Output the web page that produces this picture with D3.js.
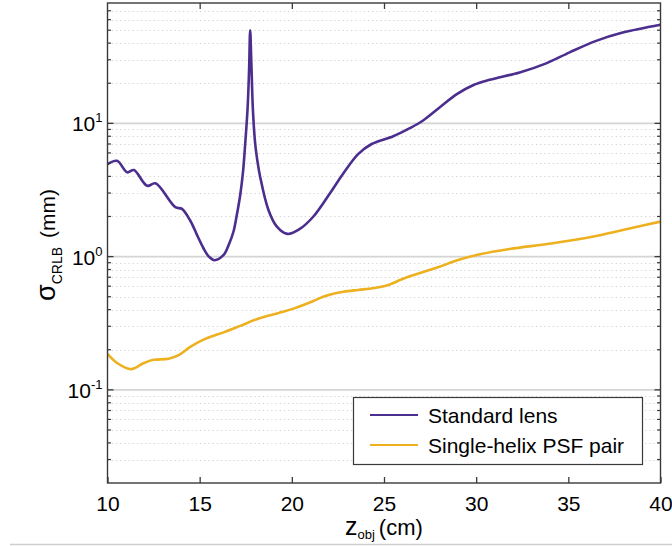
<!DOCTYPE html>
<html>
<head>
<meta charset="utf-8">
<script src="https://cdn.jsdelivr.net/npm/d3@7"></script>
<style>
  html, body { margin: 0; padding: 0; background: #fff; }
  svg { display: block; font-family: "Liberation Sans", Arial, sans-serif; }
</style>
</head>
<body>
<svg id="chart" width="672" height="546"></svg>
<script>
// Object distance z_obj (cm) and CRLB precision (mm) for the two imaging systems
const zStandard = [10, 10.52, 11.07, 11.43, 12.15, 12.6, 13.68, 14.04, 14.5, 14.86, 15.2, 15.5,
  15.8, 16.3, 16.6, 16.84, 17.0, 17.2, 17.35, 17.47, 17.6, 17.68, 17.74, 17.8, 17.89, 18.01,
  18.1, 18.28, 18.73, 19.19, 19.76, 20.45, 21.17, 22.07, 22.79, 23.61, 24.33, 25.5, 26.4,
  27.12, 28.03, 28.93, 29.83, 30.74, 32.36, 33.8, 35.07, 36.51, 37.95, 40];
const sigmaStandard = [4.94, 5.23, 4.29, 4.46, 3.40, 3.55, 2.35, 2.28, 1.85, 1.45, 1.16, 1.0,
  0.94, 1.03, 1.25, 1.55, 2.0, 2.9, 4.3, 7.0, 13, 25, 50, 29.5, 12.5, 7.06,
  5.6, 3.98, 2.24, 1.68, 1.48, 1.62, 2.0, 2.99, 4.21, 5.9, 7.0, 8.0, 9.2,
  10.5, 13.2, 16.5, 19.3, 21.2, 24.1, 28.2, 34.1, 41.6, 48, 55];

const zHelix = [10, 10.52, 11.28, 11.97, 12.5, 13.32, 13.86, 14.49, 15.21, 15.8, 16.3, 17.2,
  18.1, 19.37, 20.09, 21.17, 21.7, 22.25, 22.8, 23.6, 24.4, 25.2, 26.04, 27.85, 29.11, 30.2,
  31.82, 34.16, 36.51, 38.68, 40];
const sigmaHelix = [0.186, 0.159, 0.143, 0.159, 0.168, 0.171, 0.182, 0.210, 0.238, 0.256, 0.270,
  0.302, 0.339, 0.38, 0.407, 0.464, 0.50, 0.527, 0.545, 0.562, 0.578, 0.61, 0.682, 0.824,
  0.95, 1.04, 1.14, 1.26, 1.43, 1.67, 1.83];

const seriesNames = ["Standard lens", "Single-helix PSF pair"];
const seriesColors = ["#4b2e8d", "#edb120"];

const xTicks = [10, 15, 20, 25, 30, 35, 40];
const yMajorTicks = [0.1, 1, 10];
const yExponents = ["-1", "0", "1"];
const yDomain = [0.02, 80];
const xDomain = [10, 40];

const svg = d3.select("#chart");
const m = { left: 107.5, right: 660.5, top: 3, bottom: 483 };

const x = d3.scaleLinear().domain(xDomain).range([m.left, m.right]);
const y = d3.scaleLog().domain(yDomain).range([m.bottom, m.top]);

// Minor tick values: 2..9 times each power of ten inside the domain
const yMinor = [];
[0.01, 0.1, 1, 10].forEach(p => {
  for (let k = 2; k <= 9; k++) {
    const v = +(k * p).toPrecision(3);
    if (v > yDomain[0] && v < yDomain[1]) yMinor.push(v);
  }
});

// Separator rule under the figure
svg.append("line")
  .attr("x1", 10).attr("x2", 672).attr("y1", 544.5).attr("y2", 544.5)
  .attr("stroke", "#cfcfcf").attr("stroke-width", 1.5);

// Grid
const grid = svg.append("g");
grid.selectAll("line.minor").data(yMinor).join("line")
  .attr("class", "minor")
  .attr("x1", m.left).attr("x2", m.right)
  .attr("y1", d => Math.round(y(d)) + 0.5).attr("y2", d => Math.round(y(d)) + 0.5)
  .attr("stroke", "#d2d2d2").attr("stroke-width", 1)
  .attr("stroke-dasharray", "1.2,3");
grid.selectAll("line.major").data(yMajorTicks).join("line")
  .attr("class", "major")
  .attr("x1", m.left).attr("x2", m.right)
  .attr("y1", d => y(d)).attr("y2", d => y(d))
  .attr("stroke", "#d4d4d4").attr("stroke-width", 1.6);

// Curves
svg.append("clipPath").attr("id", "plot-clip")
  .append("rect").attr("x", m.left).attr("y", m.top)
  .attr("width", m.right - m.left).attr("height", m.bottom - m.top);

const line = d3.line()
  .x(d => x(d[0])).y(d => y(d[1]))
  .curve(d3.curveCatmullRom.alpha(0.5));

const series = [
  d3.zip(zStandard, sigmaStandard),
  d3.zip(zHelix, sigmaHelix)
];
const curves = svg.append("g").attr("clip-path", "url(#plot-clip)");
curves.selectAll("path").data(series).join("path")
  .attr("d", line)
  .attr("fill", "none")
  .attr("stroke", (d, i) => seriesColors[i])
  .attr("stroke-width", 2.6)
  .attr("stroke-linejoin", "round");

// Axes box with inward ticks
const axisColor = "#3a3a3a";
const xAxis = svg.append("g")
  .attr("transform", `translate(0,${m.bottom})`)
  .call(d3.axisBottom(x).tickValues(xTicks).tickSizeInner(-6).tickSizeOuter(0).tickPadding(13)
    .tickFormat(d3.format("d")));
const xAxisTop = svg.append("g")
  .attr("transform", `translate(0,${m.top})`)
  .call(d3.axisTop(x).tickValues(xTicks.slice(1, -1)).tickSizeInner(-6).tickSizeOuter(0)
    .tickFormat(""));
[xAxis, xAxisTop].forEach(g => {
  g.select(".domain").remove();
  g.selectAll(".tick line").attr("stroke", axisColor).attr("stroke-width", 1.3);
  g.selectAll(".tick text").attr("fill", "#000").attr("font-size", 21)
    .attr("font-family", "'Liberation Sans', Arial, sans-serif");
});

const yLeft = svg.append("g").attr("transform", `translate(${m.left},0)`);
const yRight = svg.append("g").attr("transform", `translate(${m.right},0)`);
[[yLeft, 1], [yRight, -1]].forEach(([g, dir]) => {
  g.selectAll("line.mi").data(yMinor).join("line")
    .attr("x1", 0).attr("x2", dir * 3.5)
    .attr("y1", d => y(d)).attr("y2", d => y(d))
    .attr("stroke", axisColor).attr("stroke-width", 1.2);
  g.selectAll("line.ma").data(yMajorTicks).join("line")
    .attr("x1", 0).attr("x2", dir * 6)
    .attr("y1", d => y(d)).attr("y2", d => y(d))
    .attr("stroke", axisColor).attr("stroke-width", 1.3);
});

svg.append("rect")
  .attr("x", m.left).attr("y", m.top)
  .attr("width", m.right - m.left).attr("height", m.bottom - m.top)
  .attr("fill", "none").attr("stroke", axisColor).attr("stroke-width", 1.4);

// Y tick labels as powers of ten
const yLabels = svg.append("g")
  .attr("font-size", 21).attr("fill", "#000").attr("text-anchor", "end");
yMajorTicks.forEach((v, i) => {
  const t = yLabels.append("text")
    .attr("x", m.left - 5).attr("y", y(v) + 8);
  t.append("tspan").text("10");
  t.append("tspan").attr("font-size", 13).attr("dy", -9).text(yExponents[i]);
});

// Axis titles
const xTitle = svg.append("text")
  .attr("x", 345).attr("y", 535).attr("fill", "#000").attr("font-size", 22);
xTitle.append("tspan").attr("font-size", 25).text("z");
xTitle.append("tspan").attr("font-size", 13).attr("dy", 4).text("obj");
xTitle.append("tspan").attr("dy", -4).attr("dx", 4).text("(cm)");

const yTitle = svg.append("text")
  .attr("transform", "translate(55,301) rotate(-90)")
  .attr("fill", "#000").attr("font-size", 21);
yTitle.append("tspan").attr("font-size", 27).text("σ");
yTitle.append("tspan").attr("font-size", 14).attr("dy", 7).text("CRLB");
yTitle.append("tspan").attr("dy", -7).attr("dx", 9).text("(mm)");

// Legend
const lg = svg.append("g");
lg.append("rect")
  .attr("x", 353.5).attr("y", 397.5).attr("width", 289).attr("height", 67)
  .attr("fill", "#fff").attr("stroke", axisColor).attr("stroke-width", 1.2);
seriesNames.forEach((name, i) => {
  const cy = 415 + i * 30;
  lg.append("line")
    .attr("x1", 370).attr("x2", 418).attr("y1", cy).attr("y2", cy)
    .attr("stroke", seriesColors[i]).attr("stroke-width", 2.2);
  lg.append("text")
    .attr("x", 428).attr("y", cy + 7.5)
    .attr("font-size", 21).attr("fill", "#000").text(name);
});
</script>
</body>
</html>
